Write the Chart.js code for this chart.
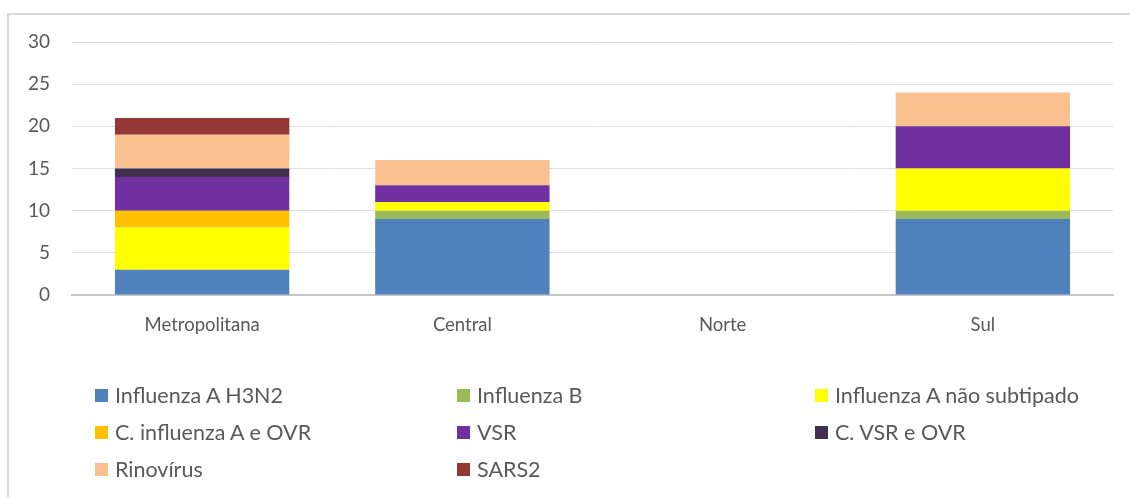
<!DOCTYPE html>
<html>
<head>
<meta charset="utf-8">
<script src="https://cdn.jsdelivr.net/npm/chart.js@4/dist/chart.umd.min.js"></script>
<style>
  html, body { margin: 0; padding: 0; background: #fff; }
  body { width: 1130px; height: 497px; position: relative; overflow: hidden; font-family: Lato, "Liberation Sans", sans-serif; }
  #frame { position: absolute; left: 7px; top: 13px; width: 1140px; height: 500px; border: 2px solid #d9d9d9; box-sizing: border-box; }
  #wrap { position: absolute; left: 0; top: 0; width: 1130px; height: 497px; }
  #legend { position: absolute; left: 95px; top: 382px; display: grid; grid-template-columns: 362px 358px auto; grid-auto-rows: 37px; color: #595959; font-size: 21.5px; }
  .li { display: flex; align-items: center; height: 26px; white-space: nowrap; }
  .sw { width: 13px; height: 13px; margin-right: 7px; flex: none; }
</style>
</head>
<body>
<div id="frame"></div>
<div id="wrap"><canvas id="c" width="1130" height="497"></canvas></div>
<div id="legend"></div>
<script>
const categories = ["Metropolitana", "Central", "Norte", "Sul"];
const seriesNames = ["Influenza A H3N2", "Influenza B", "Influenza A não subtipado", "C. influenza A e OVR", "VSR", "C. VSR e OVR", "Rinovírus", "SARS2"];
const h3n2       = [3, 9, 0, 9];
const influB     = [0, 1, 0, 1];
const influANst  = [5, 1, 0, 5];
const cInfluOVR  = [2, 0, 0, 0];
const vsr        = [4, 2, 0, 5];
const cVsrOVR    = [1, 0, 0, 0];
const rinovirus  = [4, 3, 0, 4];
const sars2      = [2, 0, 0, 0];
const yTicks = [0, 5, 10, 15, 20, 25, 30];

const seriesValues = [h3n2, influB, influANst, cInfluOVR, vsr, cVsrOVR, rinovirus, sars2];
const colors = ["#4f81bd", "#9bbb59", "#ffff00", "#ffc000", "#7030a0", "#403151", "#fac090", "#953735"];

const datasets = seriesNames.map((n, i) => ({
  label: n,
  data: seriesValues[i],
  backgroundColor: colors[i],
  borderWidth: 0,
  barPercentage: 0.67,
  categoryPercentage: 1.0
}));

const txt = "#595959";
const chart = new Chart(document.getElementById("c"), {
  type: "bar",
  data: { labels: categories, datasets },
  options: {
    responsive: false,
    animation: false,
    layout: { padding: { top: 42, right: 17, left: 0, bottom: 0 } },
    plugins: { legend: { display: false }, tooltip: { enabled: false } },
    scales: {
      x: {
        stacked: true,
        grid: { display: false, drawTicks: false },
        border: { display: true, color: "#c8c8c8", width: 2 },
        ticks: { color: txt, font: { family: "Lato", size: 18.5 }, padding: 19 },
        afterFit: s => { s.height = 202; }
      },
      y: {
        stacked: true,
        min: 0, max: 30,
        afterBuildTicks: s => { s.ticks = yTicks.map(v => ({ value: v })); },
        grid: { color: "#e0e0e0", lineWidth: 1, drawTicks: false },
        border: { display: false },
        ticks: { color: txt, font: { family: "Lato", size: 19 }, padding: 22 },
        afterFit: s => { s.width = 72; }
      }
    }
  }
});

const lg = document.getElementById("legend");
seriesNames.forEach((n, i) => {
  const d = document.createElement("div");
  d.className = "li";
  d.innerHTML = '<span class="sw" style="background:' + colors[i] + '"></span><span></span>';
  d.lastChild.textContent = n;
  lg.appendChild(d);
});
</script>
</body>
</html>
